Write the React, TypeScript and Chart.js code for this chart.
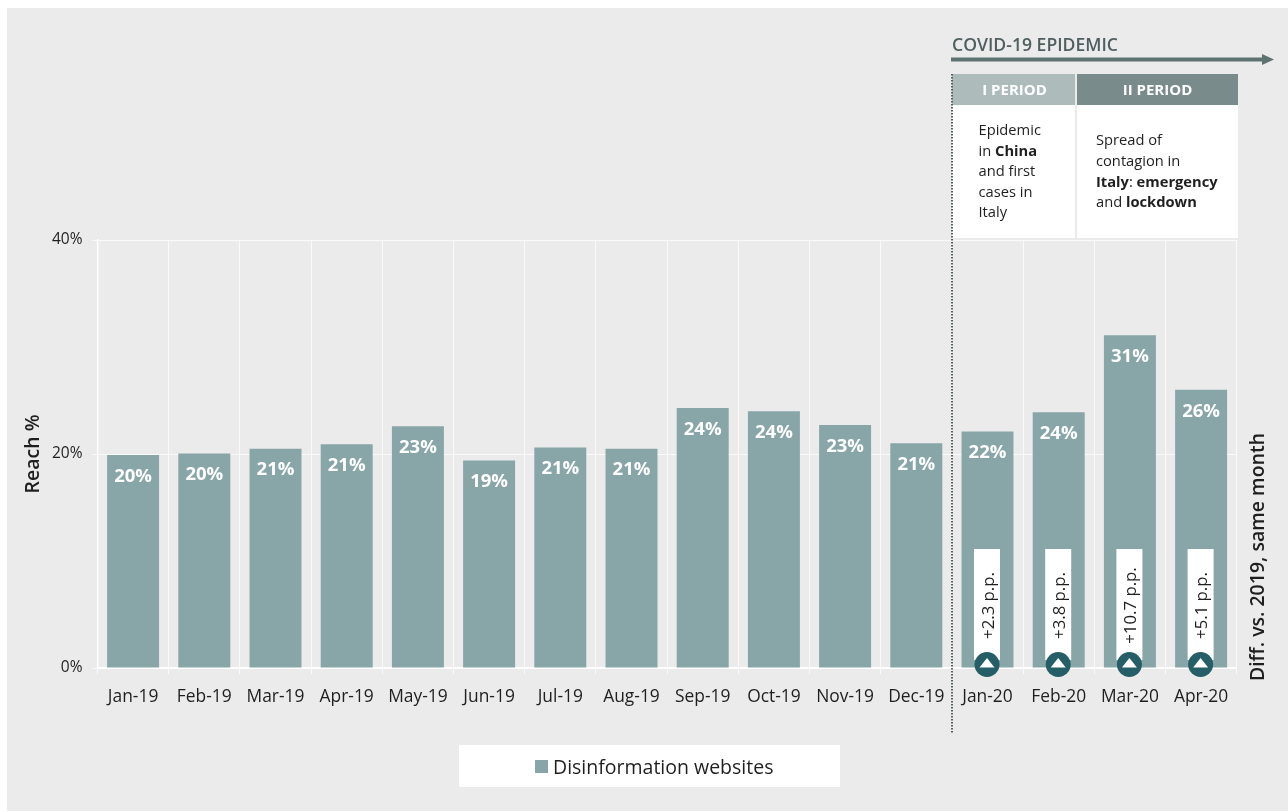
import React, { useEffect, useRef } from "react";
import { Chart, registerables } from "chart.js";

Chart.register(...registerables);

const months = ["Jan-19","Feb-19","Mar-19","Apr-19","May-19","Jun-19","Jul-19","Aug-19","Sep-19","Oct-19","Nov-19","Dec-19","Jan-20","Feb-20","Mar-20","Apr-20"];
const reach = [19.9,20.05,20.5,20.9,22.6,19.4,20.6,20.5,24.3,24.0,22.7,21.0,22.1,23.9,31.1,26.0];
const diffMonths = ["Jan-20","Feb-20","Mar-20","Apr-20"];
const diffLabels = ["+2.3 p.p.","+3.8 p.p.","+10.7 p.p.","+5.1 p.p."];

const FONT = '"Open Sans", "Noto Sans", sans-serif';
const BAR = "#88a5a7";
const PANEL = "#ebebeb";
const INK = "#1f1f1f";

type Run = { t: string; b?: boolean };
const period1Lines: Run[][] = [
  [{ t: "Epidemic" }],
  [{ t: "in " }, { t: "China", b: true }],
  [{ t: "and first" }],
  [{ t: "cases in" }],
  [{ t: "Italy" }],
];
const period2Lines: Run[][] = [
  [{ t: "Spread of" }],
  [{ t: "contagion in" }],
  [{ t: "Italy", b: true }, { t: ": " }, { t: "emergency", b: true }],
  [{ t: "and " }, { t: "lockdown", b: true }],
];

function drawRuns(ctx: CanvasRenderingContext2D, lines: Run[][], x: number, ys: number[], size: number) {
  ctx.textAlign = "left";
  ctx.textBaseline = "middle";
  ctx.fillStyle = INK;
  lines.forEach((runs, i) => {
    let cx = x;
    runs.forEach((r) => {
      ctx.font = `${r.b ? 700 : 400} ${size}px ${FONT}`;
      ctx.fillText(r.t, cx, ys[i]);
      cx += ctx.measureText(r.t).width;
    });
  });
}

const backdrop = {
  id: "backdrop",
  beforeDraw(chart: Chart) {
    const ctx = chart.ctx;
    ctx.save();
    ctx.fillStyle = "#ffffff";
    ctx.fillRect(0, 0, chart.width, chart.height);
    ctx.fillStyle = PANEL;
    ctx.fillRect(7, 8, chart.width - 7, 803);
    ctx.restore();
  },
};

const annotations = {
  id: "annotations",
  afterDraw(chart: Chart) {
    const ctx = chart.ctx;
    const meta = chart.getDatasetMeta(0);
    const xs = chart.scales.x;
    const y0 = chart.scales.y.getPixelForValue(0);
    ctx.save();

    // value labels inside the bars
    ctx.font = `700 18.5px ${FONT}`;
    ctx.fillStyle = "#ffffff";
    ctx.textAlign = "center";
    ctx.textBaseline = "middle";
    meta.data.forEach((el: any, i: number) => {
      ctx.fillText(`${Math.round(reach[i])}%`, el.x, el.y + 21.5);
    });

    // year-on-year difference badges
    diffMonths.forEach((m, i) => {
      const cx = xs.getPixelForValue(months.indexOf(m) as any);
      ctx.fillStyle = "#ffffff";
      ctx.fillRect(cx - 13.5, 549, 26, 111);
      ctx.save();
      ctx.translate(cx + 1.5, 605.5);
      ctx.rotate(-Math.PI / 2);
      ctx.font = `400 16.8px ${FONT}`;
      ctx.fillStyle = INK;
      ctx.textAlign = "center";
      ctx.textBaseline = "middle";
      ctx.fillText(diffLabels[i], 0, 0);
      ctx.restore();
      ctx.fillStyle = "#255e66";
      ctx.beginPath();
      ctx.arc(cx - 0.5, y0 - 3.5, 12.5, 0, Math.PI * 2);
      ctx.fill();
      ctx.fillStyle = "#ffffff";
      ctx.beginPath();
      ctx.moveTo(cx - 0.5, y0 - 10);
      ctx.lineTo(cx + 7, y0 - 0.5);
      ctx.lineTo(cx - 8, y0 - 0.5);
      ctx.closePath();
      ctx.fill();
    });

    // right-hand caption
    ctx.save();
    ctx.translate(1258, 557);
    ctx.rotate(-Math.PI / 2);
    ctx.font = `600 19.5px ${FONT}`;
    ctx.fillStyle = INK;
    ctx.textAlign = "center";
    ctx.textBaseline = "middle";
    ctx.fillText("Diff. vs. 2019, same month", 0, 0);
    ctx.restore();

    // period panels
    ctx.fillStyle = "#ffffff";
    ctx.fillRect(952, 105, 123, 133);
    ctx.fillRect(1077, 105, 161, 133);
    ctx.fillStyle = "#aebbbb";
    ctx.fillRect(952, 74, 123, 31);
    ctx.fillStyle = "#7a8b8c";
    ctx.fillRect(1077, 74, 161, 31);
    ctx.font = `700 15px ${FONT}`;
    ctx.fillStyle = "#ffffff";
    ctx.textAlign = "center";
    ctx.fillText("I PERIOD", 1014.5, 91);
    ctx.fillText("II PERIOD", 1157.5, 91);
    drawRuns(ctx, period1Lines, 978.5, [131, 152, 172, 193, 213], 14.7);
    drawRuns(ctx, period2Lines, 1096, [141, 162, 183, 203], 14.7);

    // epidemic heading and arrow
    ctx.font = `600 17.6px ${FONT}`;
    ctx.fillStyle = "#4f5f60";
    ctx.textAlign = "left";
    ctx.fillText("COVID-19 EPIDEMIC", 952, 46);
    ctx.fillStyle = "#5f7272";
    ctx.fillRect(951, 57.5, 312, 4);
    ctx.beginPath();
    ctx.moveTo(1262, 54);
    ctx.lineTo(1274, 59.5);
    ctx.lineTo(1262, 65);
    ctx.closePath();
    ctx.fill();

    // dotted divider
    ctx.strokeStyle = "#555f60";
    ctx.lineWidth = 2;
    ctx.setLineDash([1.5, 1.5]);
    ctx.beginPath();
    ctx.moveTo(952, 74);
    ctx.lineTo(952, 733);
    ctx.stroke();
    ctx.setLineDash([]);

    // legend
    ctx.fillStyle = "#ffffff";
    ctx.fillRect(459, 745, 381, 42);
    ctx.fillStyle = BAR;
    ctx.fillRect(535, 760, 13, 13);
    ctx.font = `400 19.5px ${FONT}`;
    ctx.fillStyle = INK;
    ctx.textAlign = "left";
    ctx.fillText("Disinformation websites", 553, 768);

    ctx.restore();
  },
};

export default function App() {
  const ref = useRef<HTMLCanvasElement>(null);
  useEffect(() => {
    document.body.style.margin = "0";
    const chart = new Chart(ref.current!, {
      type: "bar",
      data: {
        labels: months,
        datasets: [
          {
            label: "Disinformation websites",
            data: reach,
            backgroundColor: BAR,
            barPercentage: 0.73,
            categoryPercentage: 1,
          },
        ],
      },
      options: {
        responsive: false,
        animation: false,
        layout: { padding: { left: 20, right: 51.3, top: 240, bottom: 0 } },
        plugins: { legend: { display: false }, tooltip: { enabled: false }, title: { display: false } },
        scales: {
          x: {
            grid: { color: "rgba(255,255,255,0.75)", lineWidth: 1, tickLength: 6 },
            border: { color: "#ffffff", width: 1.5 },
            ticks: {
              color: INK,
              font: { family: FONT, size: 17.4 },
              padding: 13,
              maxRotation: 0,
              autoSkip: false,
            },
            afterFit(scale: any) {
              scale.height = 144;
            },
          },
          y: {
            min: 0,
            max: 40,
            grid: { color: "rgba(255,255,255,0.75)", lineWidth: 1, tickLength: 5 },
            border: { color: "#ffffff", width: 1.5 },
            ticks: {
              stepSize: 20,
              color: INK,
              font: { family: FONT, size: 15.5 },
              padding: 10,
              callback: (v: any) => `${v}%`,
            },
            title: {
              display: true,
              text: "Reach %",
              color: INK,
              font: { family: FONT, size: 19.5, weight: 600 },
              padding: { top: 2, bottom: 0 },
            },
            afterFit(scale: any) {
              scale.width = 77.5;
            },
          },
        },
      },
      plugins: [backdrop, annotations],
    } as any);
    return () => chart.destroy();
  }, []);
  return <canvas ref={ref} width={1288} height={812} style={{ display: "block" }} />;
}
